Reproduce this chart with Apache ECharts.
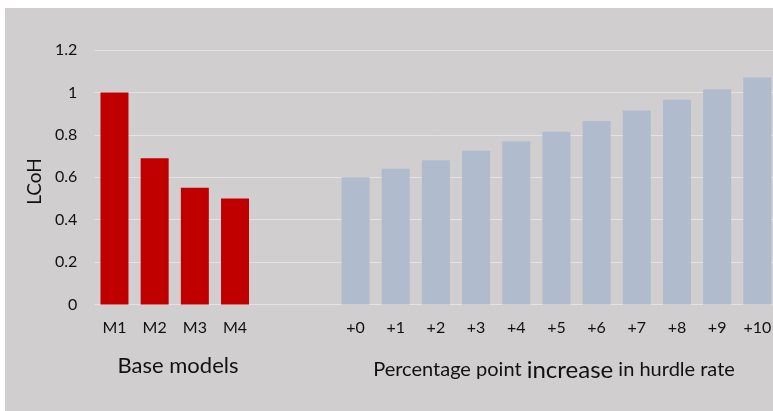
<!DOCTYPE html>
<html>
<head>
<meta charset="utf-8">
<script src="https://cdn.jsdelivr.net/npm/echarts@6/dist/echarts.min.js"></script>
<style>
  html, body { margin: 0; padding: 0; background: #ffffff; }
  #chart { position: absolute; left: 5px; top: 8px; width: 768px; height: 403px; background: #d0cece; }
</style>
</head>
<body>
<div id="chart"></div>
<script>
// Categories: four base models, two spacer slots, then hurdle-rate increments
const baseModels = ['M1', 'M2', 'M3', 'M4'];
const spacers = ['', ''];
const hurdleSteps = ['+0', '+1', '+2', '+3', '+4', '+5', '+6', '+7', '+8', '+9', '+10'];

// Levelised cost of hydrogen (relative to M1)
const baseValues = [1.0, 0.69, 0.55, 0.50];
const hurdleValues = [0.60, 0.64, 0.68, 0.725, 0.77, 0.815, 0.865, 0.915, 0.965, 1.015, 1.07];

const yTicks = { min: 0, max: 1.2, interval: 0.2 };

const categories = baseModels.concat(spacers, hurdleSteps);
const gap = (n) => new Array(n).fill('-');
const redSeries = baseValues.concat(gap(spacers.length + hurdleSteps.length));
const blueSeries = gap(baseModels.length + spacers.length).concat(hurdleValues);

const FONT = 'Lato';
const TEXT = '#111111';

const chart = echarts.init(document.getElementById('chart'), null, { renderer: 'canvas' });
chart.setOption({
  backgroundColor: 'transparent',
  animation: false,
  grid: {
    left: 89.4, top: 42, width: 683, bottom: 106.5,
    containLabel: false, outerBoundsMode: 'none'
  },
  xAxis: {
    type: 'category',
    data: categories,
    axisLine: { show: false },
    axisTick: { show: false },
    axisLabel: { color: TEXT, fontFamily: FONT, fontSize: 16, margin: 15, interval: 0 }
  },
  yAxis: {
    type: 'value',
    min: yTicks.min,
    max: yTicks.max,
    interval: yTicks.interval,
    axisLine: { show: false },
    axisTick: { show: false },
    axisLabel: { color: TEXT, fontFamily: FONT, fontSize: 16, margin: 17 },
    splitLine: { lineStyle: { color: '#e4e2e2', width: 1 } }
  },
  series: [
    {
      type: 'bar',
      data: redSeries,
      barWidth: 28,
      barGap: '-100%',
      itemStyle: { color: '#c00000' }
    },
    {
      type: 'bar',
      data: blueSeries,
      barWidth: 28,
      barGap: '-100%',
      itemStyle: { color: '#b0bccd' }
    }
  ],
  graphic: [
    {
      type: 'text',
      x: 30, y: 173.5,
      rotation: Math.PI / 2,
      style: {
        text: 'LCoH', fill: TEXT, font: '19px ' + FONT,
        align: 'center', verticalAlign: 'middle'
      }
    },
    {
      type: 'text',
      x: 173, y: 358,
      style: {
        text: 'Base models', fill: TEXT, font: '22px ' + FONT,
        align: 'center', verticalAlign: 'middle'
      }
    },
    {
      type: 'text',
      x: 549, y: 362,
      style: {
        text: '{a|Percentage point }{b|increase}{a| in hurdle rate}',
        align: 'center', verticalAlign: 'middle',
        rich: {
          a: { fill: TEXT, fontFamily: FONT, fontSize: 20 },
          b: { fill: TEXT, fontFamily: FONT, fontSize: 24 }
        }
      }
    }
  ]
});
</script>
</body>
</html>
